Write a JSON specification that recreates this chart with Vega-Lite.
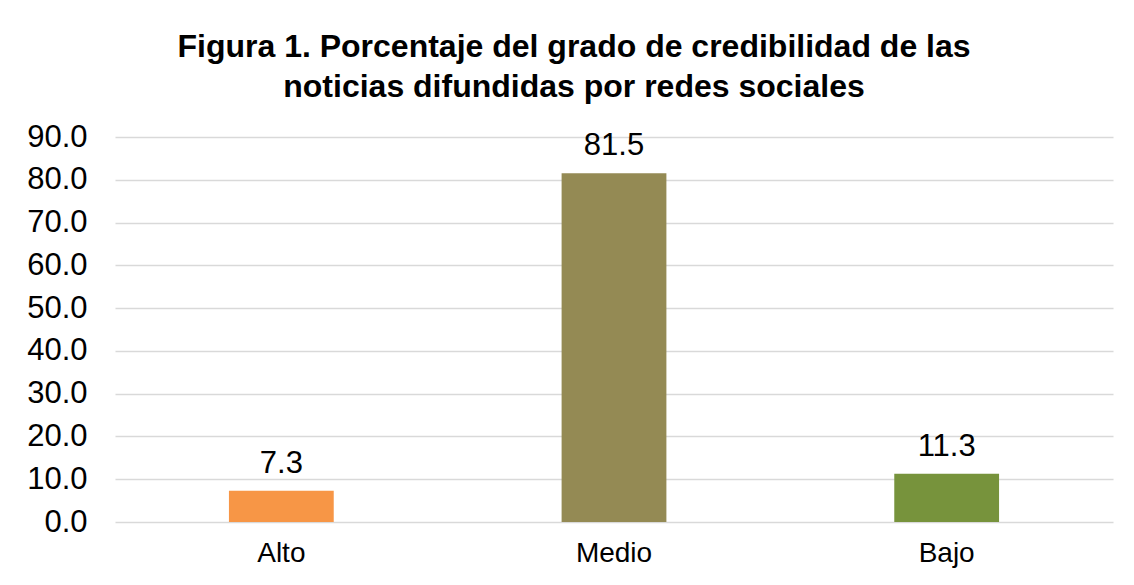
{
  "$schema": "https://vega.github.io/schema/vega-lite/v6.json",
  "autosize": "none",
  "padding": {"left": 115, "top": 137, "right": 21, "bottom": 63},
  "width": 998,
  "height": 385,
  "background": "white",
  "config": {"view": {"stroke": null}, "font": "Liberation Sans"},
  "title": {
    "text": ["Figura 1. Porcentaje del grado de credibilidad de las", "noticias difundidas por redes sociales"],
    "font": "Liberation Sans",
    "fontSize": 32,
    "fontWeight": "bold",
    "color": "#000000",
    "anchor": "middle",
    "lineHeight": 40,
    "dx": -40,
    "offset": 17
  },
  "data": {"values": [
    {"cat": "Alto", "val": 7.3},
    {"cat": "Medio", "val": 81.5},
    {"cat": "Bajo", "val": 11.3}
  ]},
  "encoding": {
    "x": {"field": "cat", "type": "nominal", "sort": null,
      "scale": {"paddingInner": 0, "paddingOuter": 0},
      "axis": {"title": null, "labelAngle": 0, "labelFontSize": 28, "labelColor": "#000000", "domain": false, "ticks": false, "labelPadding": 17, "grid": false}},
    "y": {"field": "val", "type": "quantitative",
      "scale": {"domain": [0, 90], "nice": false},
      "axis": {"title": null, "values": [0,10,20,30,40,50,60,70,80,90], "format": ".1f", "labelFontSize": 31, "labelColor": "#000000", "domain": false, "ticks": false, "labelPadding": 28, "gridColor": "#D9D9D9", "gridWidth": 1.3}}
  },
  "layer": [
    {"mark": {"type": "bar", "width": {"band": 0.315}},
     "encoding": {"color": {"field": "cat", "type": "nominal", "legend": null,
       "scale": {"domain": ["Alto", "Medio", "Bajo"], "range": ["#F79646", "#948A54", "#77933C"]}}}},
    {"mark": {"type": "text", "baseline": "alphabetic", "dy": -18, "fontSize": 31, "color": "#000000"},
     "encoding": {"text": {"field": "val", "type": "quantitative", "format": ".1f"}}}
  ]
}
